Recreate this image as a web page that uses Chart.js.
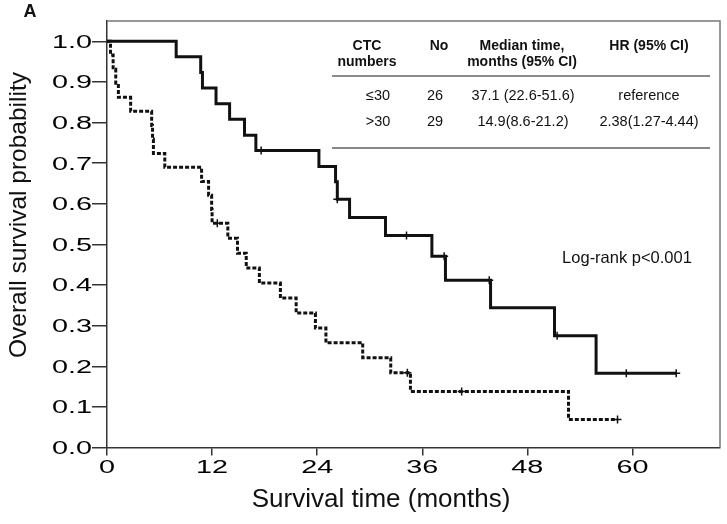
<!DOCTYPE html>
<html>
<head>
<meta charset="utf-8">
<script src="https://cdn.jsdelivr.net/npm/chart.js"></script>
<style>
  html, body { margin: 0; padding: 0; background: #fff; }
  canvas { display: block; }
</style>
</head>
<body>
<canvas id="kmChart" width="727" height="524"></canvas>

<script>
    // CTC <= 30 group: event times (months) and survival after each step
    let timeLow = [0, 7.9, 10.7, 10.9, 12.45, 14.0, 15.7, 17.0, 24.2, 26.1, 26.3, 27.7, 31.8, 37.1, 38.65, 43.8, 51.1, 55.85, 65.0];
    let survLow = [1, 0.962, 0.923, 0.885, 0.846, 0.808, 0.769, 0.731, 0.692, 0.654, 0.611, 0.566, 0.522, 0.471, 0.412, 0.344, 0.275, 0.183, 0.183];
    let censorTimeLow = [17.6, 26.3, 34.2, 38.5, 43.65, 51.4, 59.3, 65.0];
    let censorSurvLow = [0.731, 0.611, 0.522, 0.471, 0.412, 0.275, 0.183, 0.183];

    // CTC > 30 group
    let timeHigh = [0, 0.4, 0.7, 1.0, 1.3, 2.7, 5.1, 5.2, 5.3, 6.6, 10.8, 11.6, 11.95, 12.0, 13.8, 14.9, 15.9, 17.4, 19.8, 21.6, 23.8, 25.0, 29.2, 32.4, 34.65, 52.7, 58.3];
    let survHigh = [1, 0.966, 0.931, 0.897, 0.862, 0.828, 0.793, 0.759, 0.724, 0.690, 0.655, 0.621, 0.586, 0.552, 0.515, 0.478, 0.442, 0.405, 0.368, 0.331, 0.294, 0.258, 0.221, 0.184, 0.138, 0.069, 0.069];
    let censorTimeHigh = [12.6, 34.3, 40.5, 58.3];
    let censorSurvHigh = [0.552, 0.184, 0.138, 0.069];

    // axis ticks
    let xTicks = [0, 12, 24, 36, 48, 60];
    let yTicks = [0, 0.1, 0.2, 0.3, 0.4, 0.5, 0.6, 0.7, 0.8, 0.9, 1.0];

    // the little table in the top right corner
    let tableHead1 = ['CTC', 'No', 'Median time,', 'HR (95% CI)'];
    let tableHead2 = ['numbers', '', 'months (95% CI)', ''];
    let tableRow1 = ['\u226430', '26', '37.1 (22.6-51.6)', 'reference'];
    let tableRow2 = ['>30', '29', '14.9(8.6-21.2)', '2.38(1.27-4.44)'];

    let toPoints = (xs, ys) => xs.map((x, i) => ({ x: x, y: ys[i] }));
    let FONT = '"Liberation Sans", Arial, sans-serif';

    // tick labels in the original are set in a wide face, so stretch them
    function wideText(ctx, text, x, y, align, sx) {
        ctx.save();
        ctx.translate(x, y);
        ctx.scale(sx, 1);
        ctx.textAlign = align;
        ctx.fillText(text, 0, 0);
        ctx.restore();
    }

    const extras = {
        id: 'extras',
        afterDraw(chart) {
            const ctx = chart.ctx;
            const a = chart.chartArea;
            const xs = chart.scales.x, ys = chart.scales.y;

            // top and right frame
            ctx.save();
            ctx.strokeStyle = '#777';
            ctx.lineWidth = 1.5;
            ctx.beginPath();
            ctx.moveTo(a.left, a.top);
            ctx.lineTo(a.right, a.top);
            ctx.lineTo(a.right, a.bottom);
            ctx.stroke();

            ctx.fillStyle = '#000';
            ctx.textBaseline = 'middle';

            // tick labels
            ctx.font = '18px ' + FONT;
            yTicks.forEach(v => wideText(ctx, v.toFixed(1), 92, ys.getPixelForValue(v) + 1.5, 'right', 1.6));
            xTicks.forEach(v => wideText(ctx, String(v), xs.getPixelForValue(v), 468, 'center', 1.6));

            // axis titles
            ctx.fillStyle = '#111';
            ctx.textAlign = 'center';
            ctx.font = '26px ' + FONT;
            ctx.fillText('Survival time (months)', 381, 500);
            ctx.font = '24.5px ' + FONT;
            ctx.save();
            ctx.translate(19, 215);
            ctx.rotate(-Math.PI / 2);
            ctx.fillText('Overall survival probability', 0, 0);
            ctx.restore();

            // panel letter
            ctx.font = 'bold 18px ' + FONT;
            ctx.fillText('A', 30, 12);

            // log-rank note
            ctx.font = '16.5px ' + FONT;
            ctx.fillText('Log-rank p<0.001', 627, 258);

            // table
            const cols = [367, 439, 522, 649];
            const rowCols = [378, 435, 523, 649];
            ctx.font = 'bold 14px ' + FONT;
            tableHead1.forEach((t, i) => ctx.fillText(t, cols[i], 46));
            tableHead2.forEach((t, i) => ctx.fillText(t, cols[i], 62.5));
            ctx.font = '14.5px ' + FONT;
            tableRow1.forEach((t, i) => ctx.fillText(t, rowCols[i], 95.5));
            tableRow2.forEach((t, i) => ctx.fillText(t, rowCols[i], 122));

            ctx.strokeStyle = '#666';
            ctx.lineWidth = 1.5;
            ctx.beginPath();
            ctx.moveTo(332, 76);
            ctx.lineTo(710, 76);
            ctx.stroke();
            ctx.strokeStyle = '#111';
            ctx.lineWidth = 1.2;
            ctx.beginPath();
            ctx.moveTo(332, 148);
            ctx.lineTo(710, 148);
            ctx.stroke();
            ctx.restore();
        }
    };

    var ctx = document.getElementById('kmChart').getContext('2d');

    var kmChart = new Chart(ctx, {
        type: 'line',
        data: {
            datasets: [{
                label: 'CTC <= 30',
                data: toPoints(timeLow, survLow),
                stepped: true,
                borderColor: '#111',
                borderWidth: 3,
                pointRadius: 0,
                fill: false
            }, {
                label: 'CTC > 30',
                data: toPoints(timeHigh, survHigh),
                stepped: true,
                borderColor: '#111',
                borderWidth: 3,
                borderDash: [4, 2],
                pointRadius: 0,
                fill: false
            }, {
                type: 'scatter',
                label: 'censored <= 30',
                data: toPoints(censorTimeLow, censorSurvLow),
                pointStyle: 'cross',
                pointRadius: 4,
                borderColor: '#111',
                borderWidth: 1.5,
                showLine: false
            }, {
                type: 'scatter',
                label: 'censored > 30',
                data: toPoints(censorTimeHigh, censorSurvHigh),
                pointStyle: 'cross',
                pointRadius: 4,
                borderColor: '#111',
                borderWidth: 1.5,
                showLine: false
            }]
        },
        options: {
            responsive: false,
            animation: false,
            layout: {
                autoPadding: false,
                padding: { left: 92, top: 21, right: 7, bottom: 68.5 }
            },
            plugins: {
                legend: { display: false },
                tooltip: { enabled: false }
            },
            scales: {
                x: {
                    type: 'linear',
                    min: 0,
                    max: 70,
                    afterBuildTicks: s => { s.ticks = xTicks.map(v => ({ value: v })); },
                    ticks: { display: false },
                    grid: { display: true, drawOnChartArea: false, drawTicks: true, tickLength: 8, color: '#333', lineWidth: 1.5 },
                    border: { display: true, color: '#333', width: 1.5 }
                },
                y: {
                    type: 'linear',
                    min: 0,
                    max: 1.05,
                    afterBuildTicks: s => { s.ticks = yTicks.map(v => ({ value: v })); },
                    ticks: { display: false },
                    grid: { display: true, drawOnChartArea: false, drawTicks: true, tickLength: 15, color: '#333', lineWidth: 1.5 },
                    border: { display: true, color: '#333', width: 1.5 }
                }
            }
        },
        plugins: [extras]
    });
</script>
</body>
</html>
